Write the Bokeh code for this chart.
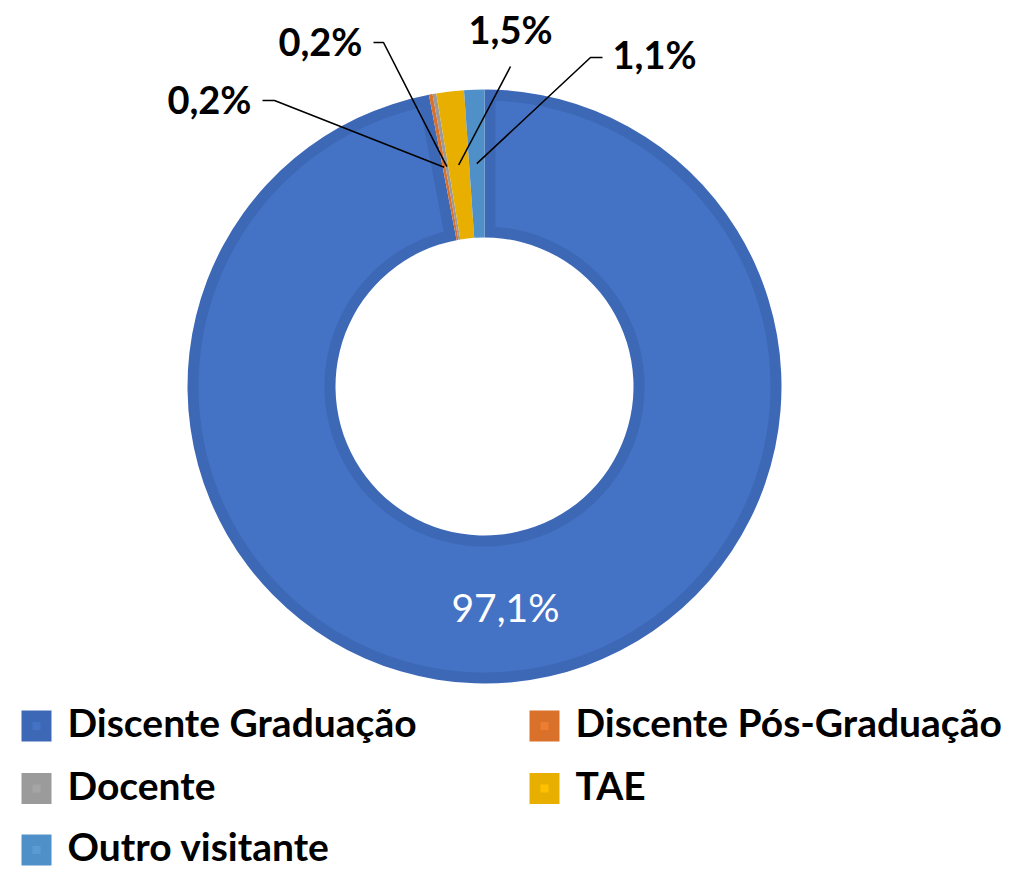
import numpy as np
from bokeh.plotting import figure
from bokeh.models import Range1d
from bokeh.core.properties import value
from bokeh.embed import file_html
from bokeh.resources import INLINE

# ---------------- data ----------------
categories = ["Discente Graduação", "Discente Pós-Graduação", "Docente", "TAE", "Outro visitante"]
shares = [97.1, 0.2, 0.2, 1.5, 1.1]
pct_labels = ["97,1%", "0,2%", "0,2%", "1,5%", "1,1%"]

# ---------------- style ----------------
fill_colors = ["#4472C4", "#ED7D31", "#A5A5A5", "#FFC000", "#5B9BD5"]
edge_colors = ["#3D68B6", "#D9712B", "#9B9B9B", "#E8AF00", "#5090C8"]
FONT = "Lato"

W, H = 1010, 870
def Y(y):
    return H - y

def base_shift(px):
    # compensation so that the glyph baseline lands at the wanted pixel row
    return 0.43 * px

cx, cy = 484, Y(386)
R_out, R_in = 297, 149
bevel = 11

p = figure(width=W, height=H, output_backend="svg", toolbar_location=None,
           x_range=Range1d(0, W), y_range=Range1d(0, H), min_border=0)
p.axis.visible = False
p.grid.visible = False
p.outline_line_color = None
p.background_fill_color = "white"
p.border_fill_color = "white"

total = float(sum(shares))
frac = np.array(shares) / total
ends = np.cumsum(frac)
starts = ends - frac
a_start = np.pi / 2 - starts * 2 * np.pi
a_end = np.pi / 2 - ends * 2 * np.pi

p.annular_wedge(x=cx, y=cy, inner_radius=R_in, outer_radius=R_out,
                start_angle=list(a_start), end_angle=list(a_end), direction="clock",
                fill_color=edge_colors, line_color=None)

# inner lighter region (bevel effect)
Ro, Ri = R_out - bevel, R_in + bevel
d_o, d_i = np.arcsin(bevel / Ro), np.arcsin(bevel / Ri)
for s, e, c in zip(a_start, a_end, fill_colors):
    w = s - e
    if w > 2 * d_i + 0.01:
        ta = np.linspace(s - d_o, e + d_o, 240)
        tb = np.linspace(e + d_i, s - d_i, 240)
        xs = np.concatenate([cx + Ro * np.cos(ta), cx + Ri * np.cos(tb)])
        ys = np.concatenate([cy + Ro * np.sin(ta), cy + Ri * np.sin(tb)])
        p.patch(xs, ys, fill_color=c, line_color=None)

# mid points of slices
mid = (a_start + a_end) / 2
rm = (R_out + R_in) / 2
mx = cx + rm * np.cos(mid)
my = cy + rm * np.sin(mid)

# big label inside
fs_in = 39
p.text(x=[mx[0]], y=[my[0] - 15 + base_shift(fs_in)], text=[pct_labels[0]], text_color="white",
       text_font=value(FONT), text_font_size=f"{fs_in}px", text_align="center",
       text_baseline="alphabetic")

# leader lines + outside labels (layout positions in image pixels)
elbows = {1: [(262, 100), (274, 100)], 2: [(373, 42), (383, 42)],
          3: [(510, 66)], 4: [(602, 57), (590, 57)]}
text_pos = {1: (251, 115, "right"), 2: (362, 57, "right"),
            3: (510, 45, "center"), 4: (612, 70, "left")}
fs_lab = 38
for i in range(1, 5):
    pts = elbows[i]
    xs = [q[0] for q in pts] + [mx[i]]
    ys = [Y(q[1]) for q in pts] + [my[i]]
    p.line(xs, ys, line_color="black", line_width=1.6)
    tx, ty, al = text_pos[i]
    p.text(x=[tx], y=[Y(ty) + base_shift(fs_lab)], text=[pct_labels[i]], text_color="black",
           text_font=value(FONT), text_font_style="bold", text_font_size=f"{fs_lab}px",
           text_align=al, text_baseline="alphabetic")

# legend
fs_leg = 39
leg_x = [36, 36 + 508, 36, 36 + 508, 36]
leg_y = [725.5, 725.5, 788, 788, 849.5]
p.rect(x=leg_x, y=[Y(v) for v in leg_y], width=30, height=31,
       fill_color=edge_colors, line_color=None)
p.rect(x=leg_x, y=[Y(v) for v in leg_y], width=8, height=8,
       fill_color=fill_colors, line_color=None)
p.text(x=[v + 31 for v in leg_x], y=[Y(v + 13) + base_shift(fs_leg) for v in leg_y], text=categories,
       text_color="black", text_font=value(FONT), text_font_style="bold",
       text_font_size=f"{fs_leg}px", text_align="left", text_baseline="alphabetic")

open("out.html", "w").write(file_html(p, INLINE))
